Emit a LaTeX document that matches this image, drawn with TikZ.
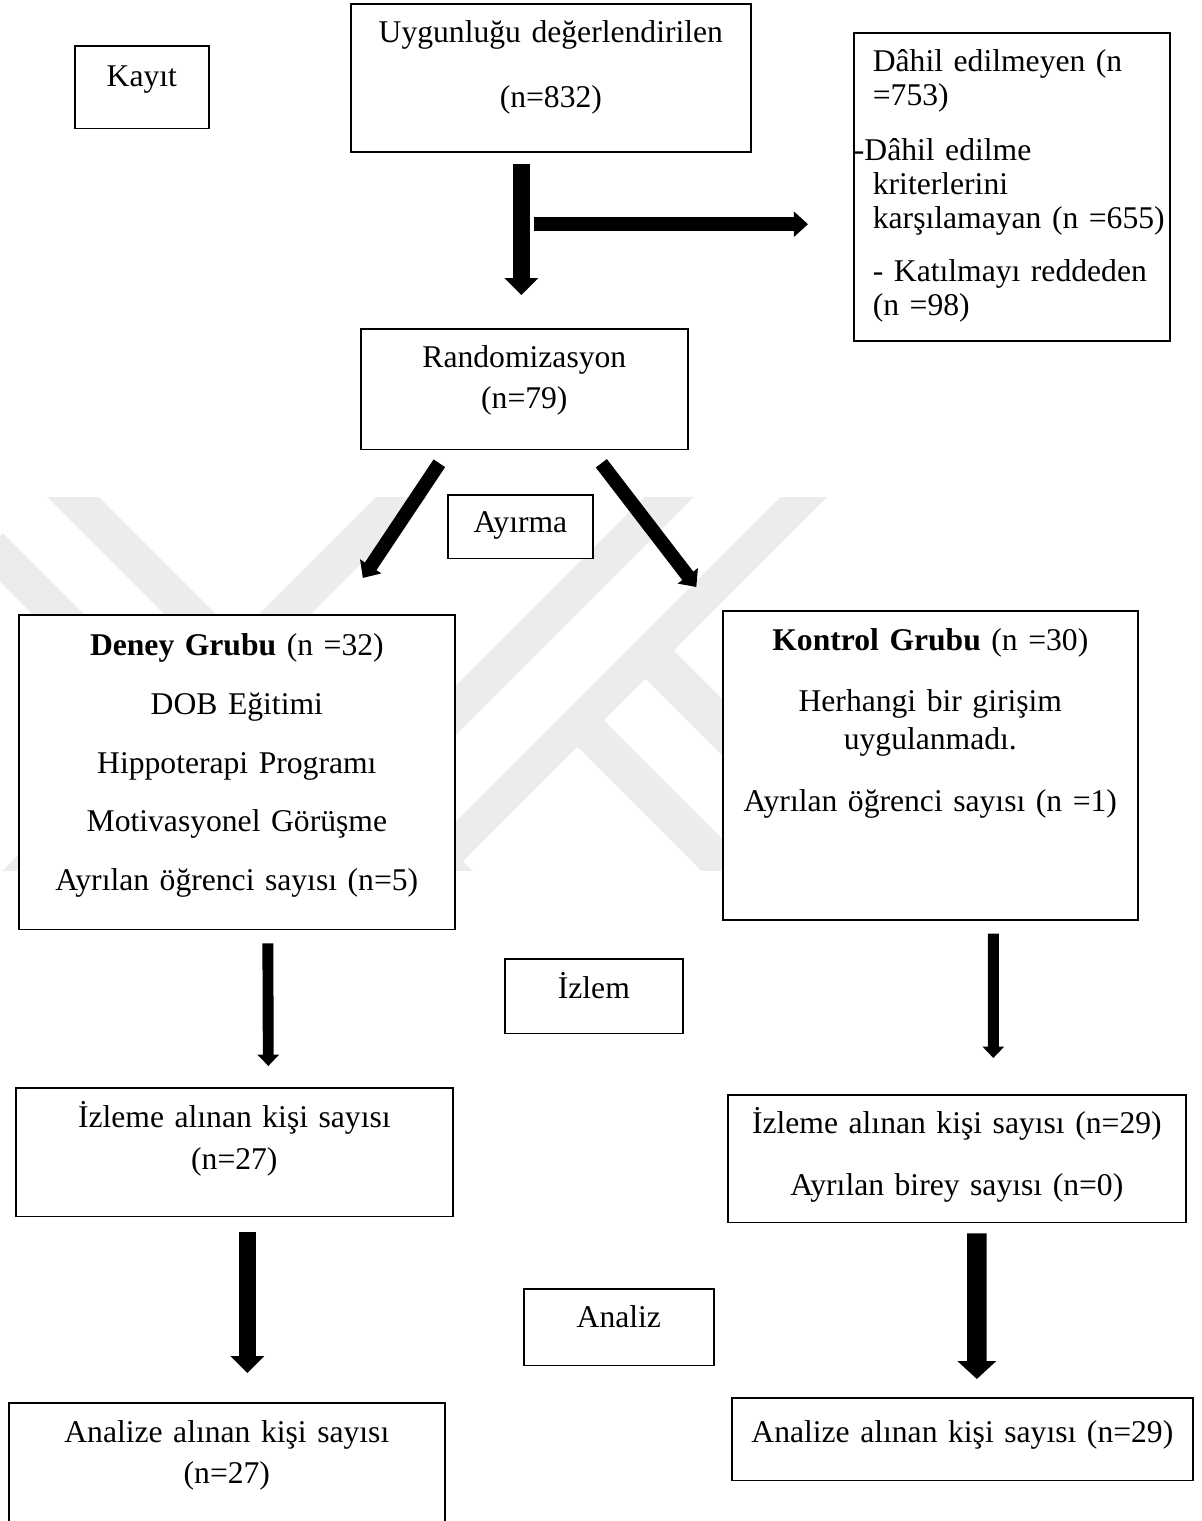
\documentclass[tikz,border=0pt]{standalone}
\usepackage{fontspec}
\setmainfont{Liberation Serif}
\usetikzlibrary{arrows.meta,calc}
\definecolor{wmgray}{RGB}{236,236,236}

\begin{document}
\begin{tikzpicture}[
    x=0.02cm, y=-0.02cm,
    box/.style={rectangle, draw, line width=1pt, fill=white, anchor=north west, inner sep=0pt, align=center, font=\fontsize{18pt}{19.3pt}\selectfont},
    listbox/.style={box, align=left},
    band/.style={wmgray, line width=#1},
    mainarrow/.style={line width=9.6pt, -{Triangle[width=18.5pt,length=9.6pt]}},
    widearrow/.style={line width=11pt, -{Triangle[width=21.5pt,length=10.2pt]}},
    sidearrow/.style={line width=7.9pt, -{Triangle[width=14pt,length=8pt]}},
    smallarrow/.style={line width=6.2pt, -{Triangle[width=12pt,length=6.5pt]}}
]
\useasboundingbox (0,0) rectangle (1201,1521);

% Watermark behind the flow
\begin{scope}
  \clip (0,497) rectangle (840,870);
  \draw[band=20.9pt] (56,480) -- (460,884);
  \draw[band=20.9pt] (-10,546) -- (330,886);
  \draw[band=20.9pt] (419,480) -- (-10,909);
  \draw[band=20pt] (686,480) -- (280,886);
  \draw[band=18.8pt] (821,480) -- (420,881);
  \draw[band=22.8pt] (647.5,652.5) -- (900,905);
  \draw[band=21.3pt] (578.5,721.5) -- (800,943);
\end{scope}

% Enrolment
\node[box, text width=2.68cm, text height=23.2pt, text depth=23.8pt] (kayit) at (74,45) {Kayıt};
\node[box, text width=8cm, text height=22.1pt, text depth=62.4pt] (elig) at (350,3) {Uygunluğu değerlendirilen\\[17.5pt] (n=832)};
\node[listbox, text width=6.32cm, text height=22.1pt, text depth=153.1pt] (excl) at (853,32) {%
\hspace*{10.8pt}Dâhil edilmeyen~(n\\
\hspace*{10.8pt}=753)\\[11.9pt]
-Dâhil edilme\\
\hspace*{10.8pt}kriterlerini\\
\hspace*{10.8pt}karşılamayan~(n~=655)\\[10.8pt]
\hspace*{10.8pt}-~Katılmayı~reddeden\\
\hspace*{10.8pt}(n~=98)};
\node[box, text width=6.54cm, text height=22.1pt, text depth=46.5pt] (rand) at (360,328) {Randomizasyon\\[4pt] (n=79)};

% Allocation
\node[box, text width=2.9cm, text height=21.5pt, text depth=14.7pt] (alloc) at (447,494) {Ayırma};
\node[box, text width=8.72cm, text height=23.2pt, text depth=155.9pt] (exp) at (18,614) {\textbf{Deney Grubu} (n =32)\\[14.1pt] DOB Eğitimi\\[14.1pt] Hippoterapi Programı\\[14.1pt] Motivasyonel Görüşme\\[14.1pt] Ayrılan öğrenci sayısı (n=5)};
\node[box, text width=8.3cm, text height=22.7pt, text depth=153.1pt] (ctrl) at (722,610) {\textbf{Kontrol Grubu} (n =30)\\[15.3pt] Herhangi bir girişim\\[2.3pt] uygulanmadı.\\[15.9pt] Ayrılan öğrenci sayısı (n =1)};

% Follow-up
\node[box, text width=3.56cm, text height=22.7pt, text depth=19.8pt] (follow) at (504,958) {İzlem};
\node[box, text width=8.74cm, text height=22.7pt, text depth=50.5pt] (fexp) at (15,1087) {İzleme alınan kişi sayısı\\[4.5pt] (n=27)};
\node[box, text width=9.16cm, text height=22.1pt, text depth=50.5pt] (fctrl) at (727,1094) {İzleme alınan kişi sayısı (n=29)\\[15.9pt] Ayrılan birey sayısı (n=0)};

% Analysis
\node[box, text width=3.8cm, text height=22.1pt, text depth=21.5pt] (anal) at (523,1288) {Analiz};
\node[box, text width=8.72cm, text height=22.7pt, text depth=55.6pt] (aexp) at (8,1402) {Analize alınan kişi sayısı\\[4pt] (n=27)};
\node[box, text width=9.22cm, text height=25.5pt, text depth=21.5pt] (actrl) at (731,1397) {Analize alınan kişi sayısı (n=29)};

% Arrows
\draw[mainarrow] ($(elig.south -| rand.north)+(-3,11)$) -- ($(rand.north)+(-3,-33)$);
\coordinate (split) at ($(elig.south -| rand.north)+(10,71)$);
\draw[sidearrow] (split) -- ($(split -| excl.west)+(-45,0)$);
\draw[sidearrow] ($(rand.south)+(-85,13)$) -- ($(exp.north)+(126,-36)$);
\draw[sidearrow] ($(rand.south)+(77,13)$) -- ($(ctrl.north)+(-234,-23)$);
\draw[smallarrow] ($(exp.south)+(31,13)$) -- ($(fexp.north)+(34,-21)$);
\draw[smallarrow] ($(ctrl.south)+(63,13)$) -- ($(fctrl.north)+(36.5,-36)$);
\draw[mainarrow] ($(fexp.south)+(13,15)$) -- ($(aexp.north)+(20.5,-29)$);
\draw[widearrow] ($(fctrl.south)+(20,10)$) -- ($(actrl.north)+(14.5,-18)$);

\end{tikzpicture}
\end{document}
